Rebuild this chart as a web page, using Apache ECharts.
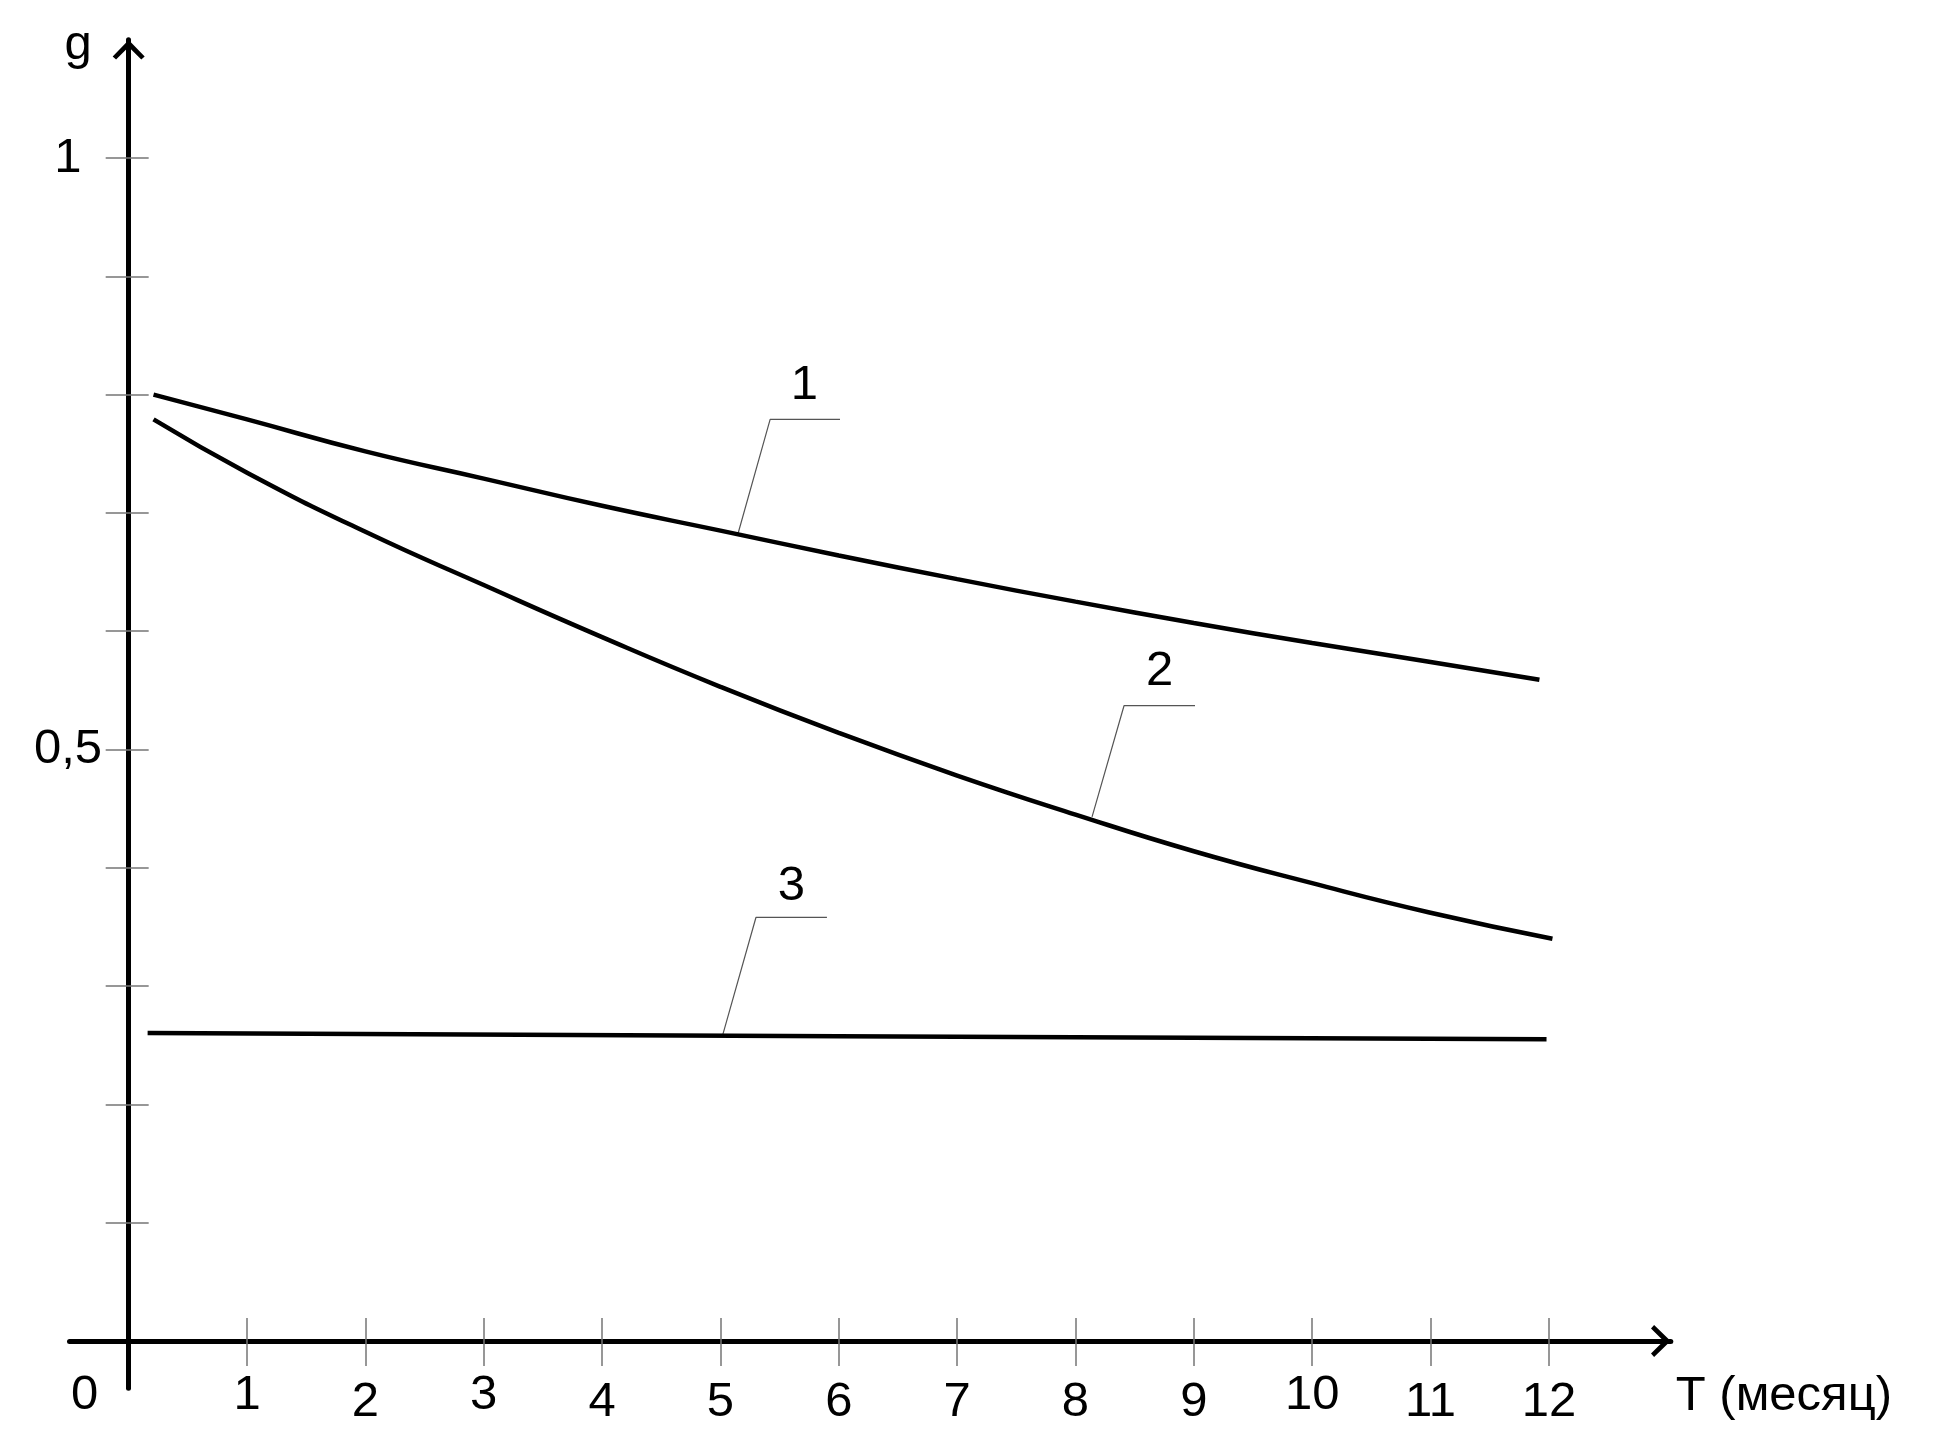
<!DOCTYPE html>
<html>
<head>
<meta charset="utf-8">
<title>g(T)</title>
<script src="https://cdn.jsdelivr.net/npm/echarts@6/dist/echarts.min.js"></script>
<style>
  html, body { margin: 0; padding: 0; background: #fff; }
  #chart { width: 1940px; height: 1446px; }
</style>
</head>
<body>
<div id="chart"></div>
<script>
// кривые 1, 2, 3: g в зависимости от T (месяц)
var curve1T = [0.21, 1, 2, 3, 4, 5, 6, 7, 8, 9, 10, 11, 11.92];
var curve1G = [0.800, 0.779, 0.752, 0.729, 0.706, 0.685, 0.664, 0.644, 0.625, 0.607, 0.590, 0.574, 0.559];
var curve2T = [0.21, 1, 2, 3, 4, 5, 6, 7, 8, 9, 10, 11, 12.03];
var curve2G = [0.779, 0.734, 0.684, 0.639, 0.595, 0.553, 0.514, 0.478, 0.445, 0.414, 0.387, 0.362, 0.340];
var curve3T = [0.16, 6, 11.98];
var curve3G = [0.2604, 0.2577, 0.2550];

// деления и подписи осей
var xTicks = [1, 2, 3, 4, 5, 6, 7, 8, 9, 10, 11, 12];
var xLabelsHigh = [0, 1, 3, 10];
var xLabelsLow = [2, 4, 5, 6, 7, 8, 9, 11, 12];
var yTicks = [0.1, 0.2, 0.3, 0.4, 0.5, 0.6, 0.7, 0.8, 0.9, 1];
var yLabels = [0.5, 1];

// выноски с номерами кривых
var leaderNames = ['1', '2', '3'];
var leaderT = [[5.15, 5.42, 6.01], [8.14, 8.41, 9.01], [5.02, 5.30, 5.90]];
var leaderG = [[0.683, 0.779, 0.779], [0.443, 0.537, 0.537], [0.259, 0.358, 0.358]];
var nameT = [5.71, 8.71, 5.60];
var nameG = [0.808, 0.566, 0.384];

var font = 'Liberation Sans, Arial, sans-serif';
var chevron = 'path://M0 16.5L16 0L32 16.5L28.6 19.6L16 7L3.4 19.6Z';

function pairs(xs, ys) {
  return xs.map(function (x, i) { return [x, ys[i]]; });
}

var chart = echarts.init(document.getElementById('chart'));

var txt = { fontSize: 49, color: '#000', fontFamily: font };
var tickStyle = { color: '#767676', width: 1.5 };

var series = [];
[[curve1T, curve1G], [curve2T, curve2G], [curve3T, curve3G]].forEach(function (c) {
  series.push({
    type: 'line',
    xAxisIndex: 0,
    yAxisIndex: 0,
    data: pairs(c[0], c[1]),
    smooth: true,
    showSymbol: false,
    symbol: 'none',
    lineStyle: { color: '#000', width: 4.5 },
    z: 3
  });
});
leaderT.forEach(function (ts, i) {
  series.push({
    type: 'line',
    xAxisIndex: 0,
    yAxisIndex: 0,
    data: pairs(ts, leaderG[i]),
    symbol: 'none',
    lineStyle: { color: '#555', width: 1.2 },
    z: 2
  });
});
series.push({
  type: 'scatter',
  xAxisIndex: 0,
  yAxisIndex: 0,
  data: pairs(nameT, nameG),
  symbolSize: 0,
  itemStyle: { color: '#000' },
  label: {
    show: true,
    position: [0, 0],
    align: 'center',
    verticalAlign: 'middle',
    fontSize: 49,
    color: '#000',
    opacity: 1,
    textBorderWidth: 0,
    fontFamily: font,
    formatter: function (p) { return leaderNames[p.dataIndex]; }
  },
  emphasis: { disabled: true }
});

chart.setOption({
  animation: false,
  backgroundColor: '#fff',
  grid: {
    left: 69.5,
    right: 269.2,
    top: 39.7,
    bottom: 57.7,
    containLabel: false,
    outerBoundsMode: 'none'
  },
  xAxis: [
    {
      type: 'value',
      position: 'bottom',
      min: -0.5,
      max: 13.03,
      axisLine: {
        show: true,
        onZero: true,
        symbol: ['none', chevron],
        symbolSize: [32, 20],
        symbolOffset: [0, -10],
        lineStyle: { color: '#000', width: 5 }
      },
      axisTick: { show: true, customValues: xTicks, length: 25, lineStyle: tickStyle },
      axisLabel: Object.assign({
        customValues: xLabelsHigh,
        margin: 7,
        verticalAlign: 'middle',
        formatter: function (v) { return v === 0 ? '{z|0}' : String(v); },
        rich: { z: Object.assign({ padding: [0, 88, 0, 0] }, txt) }
      }, txt),
      splitLine: { show: false },
      name: '\nT (месяц)',
      nameLocation: 'end',
      nameGap: 5,
      nameMoveOverlap: false,
      nameTextStyle: Object.assign({ align: 'left', verticalAlign: 'middle', lineHeight: 112 }, txt)
    },
    {
      type: 'value',
      position: 'bottom',
      min: -0.5,
      max: 13.03,
      axisLine: { show: false, onZero: true },
      axisTick: { show: true, inside: true, customValues: xTicks, length: 23, lineStyle: tickStyle },
      axisLabel: Object.assign({
        customValues: xLabelsLow,
        margin: 14,
        verticalAlign: 'middle'
      }, txt),
      splitLine: { show: false }
    }
  ],
  yAxis: [
    {
      type: 'value',
      position: 'left',
      min: -0.04,
      max: 1.1,
      axisLine: {
        show: true,
        onZero: true,
        symbol: ['none', chevron],
        symbolSize: [32, 20],
        symbolOffset: [0, -10],
        lineStyle: { color: '#000', width: 5 }
      },
      axisTick: { show: true, customValues: yTicks, length: 23, lineStyle: tickStyle },
      axisLabel: Object.assign({
        customValues: yLabels,
        margin: 1.5,
        align: 'center',
        verticalAlign: 'middle',
        formatter: function (v) { return String(v).replace('.', ','); }
      }, txt),
      splitLine: { show: false },
      name: 'g',
      nameLocation: 'end',
      nameGap: -6,
      nameMoveOverlap: false,
      nameTextStyle: Object.assign({ align: 'right', verticalAlign: 'middle', padding: [0, 37, 0, 0] }, txt)
    },
    {
      type: 'value',
      position: 'left',
      min: -0.04,
      max: 1.1,
      axisLine: { show: false, onZero: true },
      axisTick: { show: true, inside: true, customValues: yTicks, length: 20, lineStyle: tickStyle },
      axisLabel: { show: false },
      splitLine: { show: false }
    }
  ],
  series: series
});
</script>
</body>
</html>
